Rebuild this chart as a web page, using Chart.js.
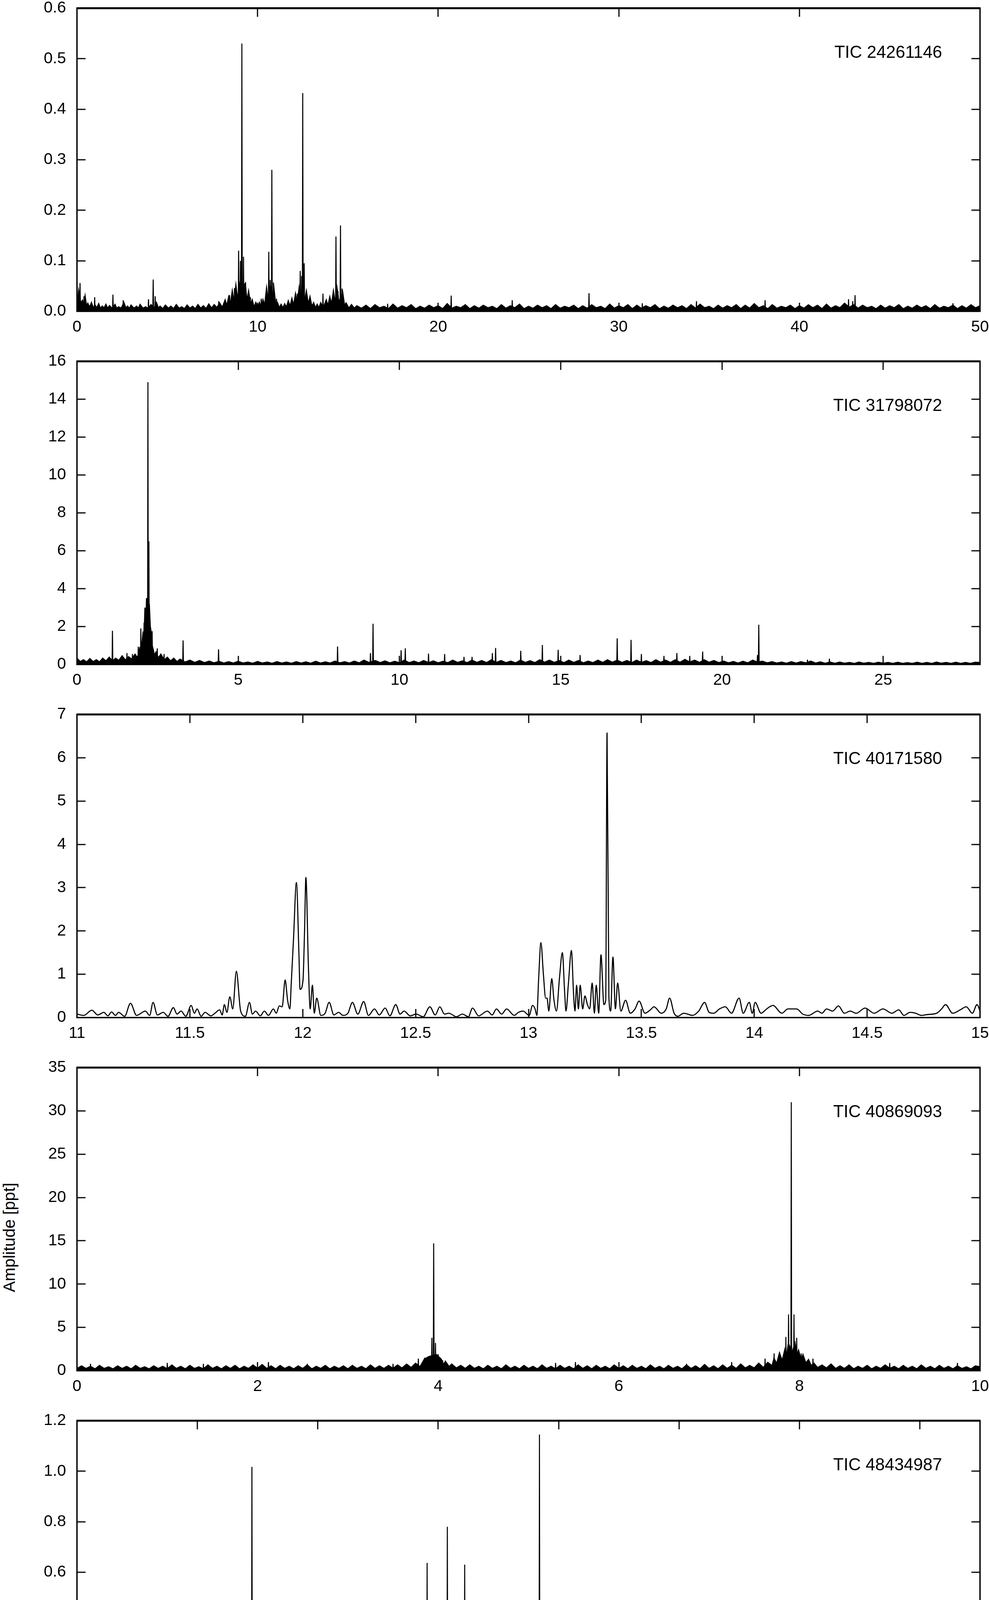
<!DOCTYPE html>
<html>
<head>
<meta charset="utf-8">
<script src="https://cdn.jsdelivr.net/npm/chart.js@4.4.1/dist/chart.umd.min.js"></script>
<style>
  body { margin: 0; background: #fff; width: 2531px; height: 6331px; position: relative; overflow: hidden; font-family: "Liberation Sans", Arial, sans-serif; }
  .panel { position: absolute; left: 0; width: 2531px; }
  #ylab { position: absolute; left: 24px; top: 3168px; transform: translate(-50%, -50%) rotate(-90deg); font-size: 42px; white-space: nowrap; color: #000; }
</style>
</head>
<body>
<div id="ylab">Amplitude [ppt]</div>
<script>
// ---- TIC 24261146 ----
const xTicks1 = [0, 10, 20, 30, 40, 50];
const yTicks1 = [0, 0.1, 0.2, 0.3, 0.4, 0.5, 0.6];
const noise1 = [[0,.03],[.05,.012],[.1,.035],[.2,.015],[.3,.02],[.38,.008],[.45,.025],[.52,.008],[.6,.014],[.7,.006],[.8,.015],[.9,.005],[1.0,.011],[1.1,.005],[1.2,.013],[1.3,.004],[1.4,.009],[1.5,.005],[1.6,.012],[1.7,.004],[1.8,.01],[1.95,.005],[2.1,.012],[2.2,.004],[2.3,.008],[2.45,.005],[2.6,.015],[2.7,.005],[2.8,.009],[2.9,.004],[3.0,.011],[3.15,.005],[3.3,.009],[3.4,.004],[3.5,.012],[3.65,.005],[3.8,.008],[3.95,.004],[4.1,.012],[4.3,.006],[4.4,.015],[4.5,.005],[4.6,.009],[4.75,.004],[4.9,.011],[5.05,.005],[5.2,.009],[5.35,.004],[5.5,.012],[5.65,.005],[5.8,.008],[5.95,.004],[6.1,.011],[6.25,.005],[6.4,.009],[6.55,.004],[6.7,.012],[6.85,.005],[7.0,.01],[7.15,.004],[7.3,.013],[7.45,.005],[7.6,.012],[7.75,.006],[7.9,.015],[8.05,.006],[8.2,.02],[8.3,.008],[8.4,.025],[8.5,.01],[8.6,.035],[8.7,.012],[8.8,.045],[8.9,.015],[9.0,.05],[9.2,.02],[9.3,.055],[9.4,.015],[9.5,.035],[9.6,.01],[9.7,.02],[9.8,.006],[9.9,.015],[10.0,.005],[10.1,.015],[10.2,.006],[10.3,.02],[10.4,.008],[10.5,.04],[10.6,.012],[10.7,.05],[10.8,.015],[10.9,.04],[11.0,.008],[11.1,.015],[11.2,.005],[11.3,.012],[11.4,.005],[11.5,.013],[11.6,.006],[11.7,.018],[11.8,.007],[11.9,.022],[12.0,.008],[12.1,.03],[12.2,.01],[12.3,.04],[12.4,.012],[12.5,.05],[12.6,.015],[12.7,.035],[12.8,.01],[12.9,.025],[13.0,.007],[13.1,.015],[13.2,.005],[13.3,.012],[13.4,.005],[13.5,.015],[13.65,.006],[13.8,.02],[13.9,.008],[14.0,.025],[14.1,.01],[14.2,.035],[14.3,.012],[14.4,.04],[14.5,.014],[14.7,.035],[14.8,.01],[14.9,.015],[15.05,.005],[15.2,.012],[15.35,.005],[15.5,.010],[15.75,.005],[16.0,.011],[16.25,.004],[16.5,.012],[16.75,.006],[17.0,.009],[17.25,.004],[17.5,.013],[17.75,.005],[18.0,.010],[18.25,.006],[18.5,.012],[18.75,.004],[19.0,.009],[19.25,.005],[19.5,.011],[19.75,.006],[20.0,.010],[20.25,.004],[20.5,.014],[20.75,.005],[21.0,.009],[21.25,.006],[21.5,.012],[21.75,.004],[22.0,.010],[22.25,.005],[22.5,.011],[22.75,.006],[23.0,.009],[23.25,.004],[23.5,.012],[23.75,.005],[24.0,.010],[24.25,.006],[24.5,.013],[24.75,.004],[25.0,.009],[25.25,.005],[25.5,.011],[25.75,.006],[26.0,.010],[26.25,.004],[26.5,.012],[26.75,.005],[27.0,.009],[27.25,.006],[27.5,.011],[27.75,.004],[28.0,.010],[28.25,.005],[28.5,.012],[28.75,.006],[29.0,.009],[29.25,.004],[29.5,.013],[29.75,.005],[30.0,.010],[30.25,.006],[30.5,.012],[30.75,.004],[31.0,.011],[31.25,.005],[31.5,.010],[31.75,.006],[32.0,.012],[32.25,.004],[32.5,.009],[32.75,.005],[33.0,.011],[33.25,.006],[33.5,.010],[33.75,.004],[34.0,.012],[34.25,.005],[34.5,.013],[34.75,.006],[35.0,.009],[35.25,.004],[35.5,.011],[35.75,.005],[36.0,.010],[36.25,.006],[36.5,.012],[36.75,.004],[37.0,.011],[37.25,.005],[37.5,.014],[37.75,.006],[38.0,.010],[38.25,.004],[38.5,.012],[38.75,.005],[39.0,.009],[39.25,.006],[39.5,.011],[39.75,.004],[40.0,.010],[40.25,.005],[40.5,.012],[40.75,.006],[41.0,.011],[41.25,.004],[41.5,.013],[41.75,.005],[42.0,.010],[42.25,.006],[42.5,.015],[42.75,.007],[43.0,.012],[43.25,.005],[43.5,.011],[43.75,.006],[44.0,.009],[44.25,.004],[44.5,.011],[44.75,.005],[45.0,.010],[45.25,.006],[45.5,.012],[45.75,.004],[46.0,.009],[46.25,.005],[46.5,.011],[46.75,.006],[47.0,.010],[47.25,.004],[47.5,.012],[47.75,.005],[48.0,.009],[48.25,.006],[48.5,.011],[48.75,.004],[49.0,.010],[49.25,.005],[49.5,.012],[49.75,.006],[50.0,.010]];
const peaks1 = [[0.17,0.056],[0.39,0.03],[0.98,0.028],[1.99,0.033],[2.56,0.022],[3.96,0.024],[4.22,0.063],[4.33,0.03],[7.85,0.02],[8.45,0.032],[8.72,0.046],[8.95,0.12],[9.05,0.1],[9.13,0.53],[9.22,0.108],[9.33,0.058],[9.6,0.028],[10.2,0.025],[10.62,0.118],[10.7,0.062],[10.79,0.28],[10.88,0.057],[11.05,0.025],[12.2,0.035],[12.36,0.08],[12.44,0.07],[12.5,0.432],[12.58,0.095],[12.7,0.04],[13.62,0.035],[14.2,0.03],[14.34,0.148],[14.45,0.04],[14.59,0.17],[14.68,0.045],[17.2,0.015],[20.72,0.031],[24.1,0.022],[28.35,0.036],[31.3,0.016],[34.3,0.02],[38.1,0.022],[42.72,0.024],[42.95,0.02],[43.08,0.032],[48.5,0.016]];

// ---- TIC 31798072 ----
const xTicks2 = [0, 5, 10, 15, 20, 25];
const yTicks2 = [0, 2, 4, 6, 8, 10, 12, 14, 16];
const noise2 = [[0,.3],[.1,.12],[.2,.22],[.3,.1],[.4,.28],[.5,.12],[.6,.22],[.7,.1],[.8,.3],[.9,.15],[1.0,.35],[1.1,.15],[1.2,.3],[1.3,.18],[1.4,.42],[1.5,.2],[1.6,.38],[1.7,.25],[1.8,.5],[1.88,.3],[1.95,.8],[2.0,.6],[2.05,1.5],[2.09,1.2],[2.12,3.0],[2.15,2.4],[2.17,3.5],[2.2,2.8],[2.23,3.2],[2.26,2.0],[2.28,1.8],[2.32,1.0],[2.35,.8],[2.4,.4],[2.45,.6],[2.52,.3],[2.6,.5],[2.7,.2],[2.8,.35],[2.9,.15],[3.0,.3],[3.1,.12],[3.2,.25],[3.35,.1],[3.5,.2],[3.65,.08],[3.8,.18],[3.95,.07],[4.1,.15],[4.25,.06],[4.4,.14],[4.55,.05],[4.7,.12],[4.85,.05],[5.0,.14],[5.15,.05],[5.3,.1],[5.45,.04],[5.6,.13],[5.75,.05],[5.9,.1],[6.05,.04],[6.2,.12],[6.35,.05],[6.5,.1],[6.65,.04],[6.8,.12],[6.95,.05],[7.1,.11],[7.25,.04],[7.4,.14],[7.55,.05],[7.7,.11],[7.85,.05],[8.0,.15],[8.15,.06],[8.3,.12],[8.45,.05],[8.6,.15],[8.75,.06],[8.9,.2],[9.05,.08],[9.25,.18],[9.4,.07],[9.55,.16],[9.7,.06],[9.85,.14],[10.0,.06],[10.15,.2],[10.3,.07],[10.45,.15],[10.6,.06],[10.75,.18],[10.9,.07],[11.05,.16],[11.2,.06],[11.35,.14],[11.5,.07],[11.65,.2],[11.8,.08],[11.95,.16],[12.1,.07],[12.25,.2],[12.4,.08],[12.55,.18],[12.7,.07],[12.85,.22],[13.0,.08],[13.15,.18],[13.3,.07],[13.45,.15],[13.6,.06],[13.75,.2],[13.9,.08],[14.05,.17],[14.2,.07],[14.35,.22],[14.5,.09],[14.65,.2],[14.8,.08],[14.95,.18],[15.1,.07],[15.25,.2],[15.4,.08],[15.55,.18],[15.7,.06],[15.85,.15],[16.0,.07],[16.15,.2],[16.3,.08],[16.45,.22],[16.6,.09],[16.75,.2],[16.9,.08],[17.05,.18],[17.2,.07],[17.35,.2],[17.5,.08],[17.65,.17],[17.8,.07],[17.95,.22],[18.1,.09],[18.25,.2],[18.4,.08],[18.55,.22],[18.7,.09],[18.85,.24],[19.0,.1],[19.15,.2],[19.3,.08],[19.45,.22],[19.6,.09],[19.75,.18],[19.9,.07],[20.05,.15],[20.2,.06],[20.35,.13],[20.5,.05],[20.65,.14],[20.8,.06],[20.95,.2],[21.1,.1],[21.25,.15],[21.4,.06],[21.55,.12],[21.7,.05],[21.85,.1],[22.0,.04],[22.15,.12],[22.3,.05],[22.45,.12],[22.6,.06],[22.75,.15],[22.9,.05],[23.05,.11],[23.2,.04],[23.35,.1],[23.5,.04],[23.65,.1],[23.8,.04],[23.95,.08],[24.1,.03],[24.25,.1],[24.4,.04],[24.55,.08],[24.7,.03],[24.85,.09],[25.0,.04],[25.15,.08],[25.3,.03],[25.45,.09],[25.6,.03],[25.75,.07],[25.9,.03],[26.05,.09],[26.2,.03],[26.35,.08],[26.5,.03],[26.65,.1],[26.8,.04],[26.95,.08],[27.1,.03],[27.25,.09],[27.4,.03],[27.55,.08],[27.7,.03],[27.85,.09],[28.0,.08]];
const peaks2 = [[1.1,1.78],[1.55,0.6],[1.72,0.55],[1.9,0.94],[1.98,1.9],[2.08,2.2],[2.2,14.9],[2.23,6.5],[2.33,1.75],[2.49,0.85],[2.7,0.55],[3.29,1.27],[4.39,0.8],[8.08,0.95],[9.1,0.6],[9.18,2.15],[10.05,0.75],[10.18,0.85],[10.9,0.57],[11.4,0.55],[12.0,0.4],[12.25,0.4],[12.88,0.6],[12.98,0.87],[13.76,0.72],[14.43,1.03],[14.92,0.77],[15.6,0.5],[16.75,1.38],[17.18,1.3],[17.5,0.55],[18.2,0.45],[18.6,0.6],[19.0,0.45],[19.4,0.68],[21.1,0.5],[21.14,2.1],[22.65,0.25],[23.33,0.3]];

// ---- TIC 40171580 ----
const xTicks3 = [11, 11.5, 12, 12.5, 13, 13.5, 14, 14.5, 15];
const yTicks3 = [0, 1, 2, 3, 4, 5, 6, 7];
const line3 = [[11.0,0.08],[11.03,0.05],[11.066,0.17],[11.092,0.06],[11.119,0.12],[11.137,0.04],[11.153,0.13],[11.171,0.05],[11.184,0.12],[11.211,0.03],[11.237,0.33],[11.264,0.05],[11.303,0.15],[11.322,0.05],[11.337,0.35],[11.356,0.06],[11.382,0.12],[11.403,0.03],[11.427,0.23],[11.443,0.08],[11.461,0.15],[11.482,0.03],[11.506,0.28],[11.52,0.1],[11.532,0.2],[11.55,0.03],[11.567,0.12],[11.593,0.04],[11.611,0.1],[11.632,0.18],[11.643,0.06],[11.653,0.3],[11.664,0.12],[11.677,0.48],[11.69,0.2],[11.706,1.07],[11.725,0.15],[11.746,0.03],[11.764,0.35],[11.777,0.08],[11.791,0.15],[11.812,0.04],[11.83,0.15],[11.848,0.05],[11.87,0.2],[11.883,0.1],[11.896,0.27],[11.909,0.25],[11.922,0.87],[11.933,0.4],[11.943,0.2],[11.949,0.78],[11.959,1.8],[11.972,3.12],[11.983,1.5],[11.988,0.65],[12.001,0.85],[12.008,2.0],[12.014,3.24],[12.025,1.2],[12.033,0.2],[12.043,0.75],[12.051,0.1],[12.062,0.45],[12.08,0.05],[12.099,0.1],[12.117,0.35],[12.138,0.06],[12.159,0.12],[12.178,0.05],[12.2,0.1],[12.22,0.35],[12.244,0.08],[12.27,0.37],[12.291,0.05],[12.318,0.2],[12.339,0.06],[12.365,0.22],[12.386,0.04],[12.412,0.3],[12.431,0.08],[12.449,0.15],[12.476,0.04],[12.502,0.08],[12.534,0.02],[12.563,0.25],[12.587,0.06],[12.607,0.25],[12.628,0.08],[12.647,0.1],[12.681,0.02],[12.707,0.08],[12.734,0.02],[12.752,0.22],[12.779,0.04],[12.818,0.15],[12.839,0.06],[12.858,0.2],[12.881,0.08],[12.903,0.2],[12.937,0.05],[12.955,0.12],[12.976,0.15],[13.003,0.05],[13.018,0.28],[13.029,0.2],[13.037,0.05],[13.045,0.9],[13.055,1.73],[13.066,1.0],[13.076,0.45],[13.082,0.45],[13.09,0.15],[13.103,0.9],[13.113,0.4],[13.124,0.15],[13.137,0.9],[13.15,1.5],[13.16,0.6],[13.166,0.15],[13.177,0.8],[13.19,1.55],[13.2,0.5],[13.206,0.15],[13.213,0.75],[13.221,0.2],[13.229,0.75],[13.24,0.2],[13.25,0.5],[13.261,0.3],[13.271,0.2],[13.282,0.8],[13.292,0.1],[13.3,0.75],[13.311,0.1],[13.321,1.45],[13.334,0.3],[13.342,0.4],[13.348,6.57],[13.356,0.5],[13.364,0.15],[13.374,1.4],[13.385,0.2],[13.395,0.8],[13.409,0.15],[13.43,0.4],[13.451,0.1],[13.472,0.2],[13.49,0.38],[13.516,0.1],[13.54,0.18],[13.556,0.25],[13.588,0.1],[13.61,0.2],[13.625,0.45],[13.645,0.1],[13.661,0.03],[13.688,0.1],[13.727,0.05],[13.754,0.15],[13.78,0.35],[13.8,0.12],[13.82,0.1],[13.846,0.2],[13.872,0.25],[13.899,0.1],[13.933,0.45],[13.951,0.1],[13.978,0.35],[13.991,0.1],[14.004,0.35],[14.03,0.1],[14.055,0.2],[14.083,0.28],[14.122,0.1],[14.149,0.2],[14.188,0.2],[14.215,0.08],[14.241,0.05],[14.281,0.15],[14.3,0.1],[14.32,0.2],[14.347,0.15],[14.373,0.27],[14.399,0.1],[14.425,0.15],[14.452,0.1],[14.491,0.22],[14.531,0.1],[14.57,0.2],[14.61,0.1],[14.64,0.18],[14.663,0.05],[14.69,0.12],[14.715,0.1],[14.74,0.05],[14.768,0.07],[14.808,0.1],[14.83,0.2],[14.847,0.3],[14.879,0.1],[14.913,0.18],[14.939,0.25],[14.966,0.1],[14.987,0.3],[15.0,0.15]];

// ---- TIC 40869093 ----
const xTicks4 = [0, 2, 4, 6, 8, 10];
const yTicks4 = [0, 5, 10, 15, 20, 25, 30, 35];
const noise4 = [[0,.2],[.05,.5],[.1,.2],[.15,.45],[.2,.15],[.25,.55],[.3,.2],[.35,.4],[.4,.15],[.45,.5],[.5,.2],[.55,.45],[.6,.15],[.65,.55],[.7,.2],[.75,.4],[.8,.15],[.85,.5],[.9,.2],[.95,.45],[1.0,.15],[1.05,.6],[1.1,.2],[1.15,.45],[1.2,.15],[1.25,.55],[1.3,.2],[1.35,.4],[1.4,.15],[1.45,.6],[1.5,.2],[1.55,.45],[1.6,.15],[1.65,.5],[1.7,.2],[1.75,.55],[1.8,.15],[1.85,.45],[1.9,.2],[1.95,.6],[2.0,.2],[2.05,.65],[2.1,.2],[2.15,.5],[2.2,.15],[2.25,.55],[2.3,.2],[2.35,.45],[2.4,.15],[2.45,.5],[2.5,.2],[2.55,.6],[2.6,.15],[2.65,.45],[2.7,.2],[2.75,.55],[2.8,.15],[2.85,.45],[2.9,.2],[2.95,.5],[3.0,.15],[3.05,.55],[3.1,.2],[3.15,.45],[3.2,.15],[3.25,.6],[3.3,.2],[3.35,.5],[3.4,.2],[3.45,.55],[3.5,.2],[3.55,.6],[3.6,.25],[3.65,.7],[3.7,.3],[3.75,.8],[3.8,.4],[3.85,1.3],[3.9,1.6],[3.98,1.8],[4.03,1.3],[4.06,.6],[4.08,1.0],[4.12,.4],[4.15,.7],[4.2,.25],[4.25,.55],[4.3,.2],[4.35,.6],[4.4,.2],[4.45,.45],[4.5,.15],[4.55,.55],[4.6,.2],[4.65,.45],[4.7,.15],[4.75,.6],[4.8,.2],[4.85,.45],[4.9,.15],[4.95,.55],[5.0,.2],[5.05,.45],[5.1,.15],[5.15,.6],[5.2,.2],[5.25,.45],[5.3,.15],[5.35,.55],[5.4,.2],[5.45,.45],[5.5,.15],[5.55,.6],[5.6,.2],[5.65,.5],[5.7,.15],[5.75,.55],[5.8,.2],[5.85,.45],[5.9,.15],[5.95,.6],[6.0,.2],[6.05,.5],[6.1,.15],[6.15,.55],[6.2,.2],[6.25,.45],[6.3,.15],[6.35,.6],[6.4,.2],[6.45,.45],[6.5,.15],[6.55,.55],[6.6,.2],[6.65,.45],[6.7,.15],[6.75,.6],[6.8,.2],[6.85,.5],[6.9,.15],[6.95,.65],[7.0,.2],[7.05,.5],[7.1,.15],[7.15,.6],[7.2,.2],[7.25,.55],[7.3,.2],[7.35,.7],[7.4,.25],[7.45,.55],[7.5,.25],[7.55,.8],[7.6,.3],[7.65,.9],[7.7,.5],[7.72,1.3],[7.75,.7],[7.78,1.9],[7.81,1.0],[7.84,2.3],[7.86,1.5],[7.88,3.0],[7.92,2.0],[7.95,3.0],[7.97,1.6],[7.99,2.2],[8.02,1.0],[8.04,1.7],[8.07,.8],[8.1,1.2],[8.13,.5],[8.16,.8],[8.2,.3],[8.25,.6],[8.3,.25],[8.35,.7],[8.4,.2],[8.45,.5],[8.5,.2],[8.55,.6],[8.6,.15],[8.65,.45],[8.7,.2],[8.75,.55],[8.8,.15],[8.85,.45],[8.9,.2],[8.95,.6],[9.0,.2],[9.05,.45],[9.1,.15],[9.15,.55],[9.2,.2],[9.25,.45],[9.3,.15],[9.35,.6],[9.4,.2],[9.45,.45],[9.5,.15],[9.55,.55],[9.6,.2],[9.65,.45],[9.7,.15],[9.75,.5],[9.8,.2],[9.85,.4],[9.9,.15],[9.95,.5],[10.0,.4]];
const peaks4 = [[0.15,0.8],[1.0,0.9],[1.4,0.8],[2.12,1.0],[2.55,0.8],[3.5,0.8],[3.78,1.4],[3.85,1.5],[3.93,3.8],[3.95,14.7],[3.97,3.2],[4.0,1.9],[4.05,1.2],[5.3,0.9],[5.52,1.0],[6.75,0.8],[7.25,1.0],[7.62,1.4],[7.72,2.0],[7.85,3.9],[7.88,6.5],[7.91,31.0],[7.94,6.5],[7.97,3.8],[8.02,2.0],[8.15,1.4],[9.0,0.9],[9.75,0.9]];

// ---- TIC 48434987 ----
const xTicks5 = [0, 10, 20, 30, 40, 50, 60, 70];
const yTicks5 = [0, 0.2, 0.4, 0.6, 0.8, 1.0, 1.2];
const noise5 = [[0,.08],[.2,.04],[.4,.07],[.6,.03],[.8,.06],[1.0,.025],[1.2,.05],[1.4,.02],[1.6,.04],[1.8,.015],[2.0,.035],[2.2,.015],[2.4,.04],[2.6,.012],[2.8,.03],[3.0,.012],[3.2,.035],[3.4,.01],[3.6,.03],[3.8,.012],[4.0,.035],[4.2,.01],[4.4,.025],[4.6,.01],[4.8,.03],[5.0,.012],[5.2,.035],[5.4,.01],[5.6,.025],[5.8,.012],[6.0,.03],[6.2,.01],[6.4,.028],[6.6,.012],[6.8,.035],[7.0,.01],[7.2,.025],[7.4,.012],[7.6,.03],[7.8,.01],[8.0,.03],[8.2,.012],[8.4,.025],[8.6,.01],[8.8,.035],[9.0,.012],[9.2,.03],[9.4,.01],[9.6,.03],[9.8,.012],[10.0,.035],[10.3,.015],[10.6,.04],[10.9,.015],[11.2,.035],[11.5,.015],[11.8,.045],[12.1,.018],[12.4,.05],[12.7,.02],[13.0,.045],[13.3,.02],[13.6,.06],[13.9,.03],[14.1,.07],[14.3,.08],[14.5,.05],[14.8,.07],[15.0,.03],[15.3,.05],[15.6,.015],[15.9,.045],[16.2,.015],[16.5,.035],[16.8,.015],[17.1,.04],[17.4,.015],[17.7,.035],[18.0,.02],[18.3,.05],[18.6,.06],[18.9,.025],[19.2,.05],[19.5,.02],[19.8,.04],[20.1,.015],[20.4,.035],[20.7,.015],[21.0,.04],[21.3,.015],[21.6,.045],[21.9,.018],[22.2,.04],[22.5,.015],[22.8,.035],[23.1,.015],[23.4,.05],[23.7,.02],[24.0,.04],[24.3,.02],[24.6,.05],[24.9,.018],[25.2,.04],[25.5,.015],[25.8,.045],[26.1,.018],[26.4,.05],[26.7,.02],[27.0,.045],[27.3,.018],[27.6,.04],[27.9,.02],[28.2,.05],[28.5,.025],[28.8,.06],[29.1,.07],[29.4,.04],[29.7,.02],[29.9,.005],[30.1,.03],[30.4,.06],[30.7,.04],[31.0,.06],[31.3,.03],[31.6,.05],[31.9,.025],[32.2,.06],[32.5,.03],[32.8,.05],[33.1,.02],[33.4,.04],[33.7,.015],[34.0,.035],[34.3,.015],[34.6,.04],[34.9,.015],[35.2,.035],[35.5,.015],[35.8,.045],[36.1,.02],[36.4,.05],[36.7,.02],[37.0,.045],[37.3,.025],[37.6,.06],[37.9,.04],[38.2,.08],[38.5,.09],[38.8,.06],[39.1,.05],[39.4,.02],[39.7,.04],[40.0,.015],[40.3,.035],[40.6,.015],[40.9,.03],[41.2,.012],[41.5,.035],[41.8,.012],[42.1,.03],[42.4,.015],[42.7,.04],[43.0,.012],[43.3,.035],[43.6,.015],[43.9,.03],[44.2,.012],[44.5,.04],[44.8,.015],[45.1,.03],[45.5,.01],[46.0,.028],[46.5,.01],[47.0,.03],[47.5,.01],[48.0,.028],[48.5,.01],[49.0,.03],[49.5,.01],[50.0,.028],[50.5,.01],[51.0,.03],[51.5,.01],[52.0,.027],[52.5,.01],[53.0,.03],[53.5,.008],[54.0,.025],[54.5,.008],[55.0,.025],[55.5,.008],[56.0,.024],[56.5,.008],[57.0,.025],[57.5,.008],[58.0,.022],[58.5,.007],[59.0,.023],[59.5,.007],[60.0,.022],[60.5,.007],[61.0,.02],[61.5,.006],[62.0,.022],[62.5,.006],[63.0,.02],[63.5,.006],[64.0,.021],[64.5,.006],[65.0,.019],[65.5,.006],[66.0,.02],[66.5,.006],[67.0,.019],[67.5,.006],[68.0,.02],[68.5,.006],[69.0,.019],[69.5,.006],[70.0,.02],[70.5,.006],[71.0,.018],[71.5,.006],[72.0,.02],[72.5,.006],[73.0,.018],[73.5,.006],[74.0,.019],[74.5,.006],[75.0,.017]];
const peaks5 = [[0.17,0.135],[0.37,0.1],[0.52,0.128],[0.8,0.1],[2.5,0.07],[4.07,0.085],[8.8,0.05],[10.63,0.065],[10.93,0.145],[11.5,0.1],[12.6,0.2],[13.1,0.28],[13.54,0.09],[14.23,0.1],[14.53,1.017],[14.62,0.2],[15.32,0.21],[16.25,0.165],[17.39,0.07],[17.73,0.22],[18.08,0.09],[18.72,0.383],[18.87,0.11],[19.32,0.115],[19.76,0.19],[22.12,0.07],[23.7,0.145],[24.39,0.237],[25.18,0.1],[26.6,0.11],[27.0,0.1],[27.4,0.09],[28.4,0.1],[29.08,0.637],[30.76,0.78],[31.5,0.302],[32.2,0.63],[33.03,0.28],[33.3,0.07],[35.5,0.07],[36.2,0.115],[37.57,0.17],[38.0,0.1],[38.41,1.145],[38.5,0.32],[38.6,0.2],[39.1,0.16],[44.4,0.07],[44.67,0.128],[51.3,0.06],[54.3,0.08],[62.0,0.05],[66.0,0.06],[69.7,0.065]];

// ---- TIC 51026945 ----
const xTicks6 = [0, 5, 10, 15, 20, 25, 30, 35, 40];
const yTicks6 = [0, 0.05, 0.1, 0.15, 0.2, 0.25, 0.3, 0.35];
const noise6 = [[0,.025],[.1,.01],[.2,.02],[.3,.008],[.4,.022],[.5,.008],[.6,.02],[.7,.007],[.8,.018],[.9,.007],[1.0,.022],[1.1,.006],[1.2,.016],[1.4,.005],[1.6,.014],[1.8,.004],[2.0,.012],[2.2,.004],[2.4,.01],[2.6,.003],[2.8,.012],[3.0,.004],[3.2,.009],[3.4,.003],[3.6,.011],[3.8,.004],[4.0,.009],[4.2,.003],[4.4,.012],[4.6,.004],[4.8,.009],[5.0,.003],[5.2,.011],[5.4,.004],[5.6,.009],[5.8,.003],[6.0,.01],[6.2,.004],[6.4,.012],[6.6,.003],[6.8,.009],[7.0,.004],[7.2,.011],[7.4,.003],[7.6,.009],[7.8,.004],[8.0,.011],[8.2,.003],[8.4,.009],[8.6,.004],[8.8,.012],[9.0,.003],[9.2,.009],[9.4,.004],[9.6,.011],[9.8,.003],[10.0,.009],[10.2,.004],[10.4,.012],[10.6,.003],[10.8,.009],[11.0,.004],[11.2,.011],[11.4,.003],[11.6,.009],[11.8,.004],[12.0,.01],[12.2,.003],[12.4,.008],[12.6,.004],[12.8,.011],[13.0,.003],[13.2,.009],[13.4,.004],[13.6,.01],[13.8,.003],[14.0,.008],[14.2,.004],[14.4,.011],[14.6,.003],[14.8,.009],[15.0,.004],[15.2,.011],[15.4,.003],[15.6,.01],[15.8,.004],[16.0,.012],[16.2,.004],[16.4,.01],[16.6,.003],[16.8,.011],[17.0,.004],[17.2,.011],[17.4,.004],[17.6,.013],[17.8,.005],[18.0,.012],[18.2,.004],[18.4,.011],[18.6,.004],[18.8,.012],[19.0,.005],[19.2,.015],[19.35,.008],[19.5,.02],[19.6,.012],[19.7,.04],[19.8,.02],[19.95,.035],[20.05,.01],[20.2,.015],[20.35,.004],[20.5,.011],[20.65,.004],[20.8,.012],[21.0,.004],[21.2,.011],[21.4,.004],[21.6,.012],[21.75,.005],[21.9,.015],[22.05,.008],[22.2,.025],[22.3,.012],[22.4,.05],[22.5,.02],[22.6,.04],[22.7,.01],[22.8,.02],[22.9,.005],[23.0,.011],[23.2,.004],[23.4,.012],[23.6,.003],[23.8,.01],[24.0,.004],[24.2,.011],[24.4,.003],[24.6,.009],[24.8,.004],[25.0,.011],[25.2,.003],[25.4,.01],[25.6,.004],[25.8,.012],[26.0,.003],[26.2,.009],[26.4,.004],[26.6,.011],[26.8,.003],[27.0,.01],[27.2,.004],[27.4,.012],[27.6,.003],[27.8,.009],[28.0,.004],[28.2,.011],[28.4,.003],[28.6,.01],[28.8,.004],[29.0,.012],[29.2,.003],[29.4,.01],[29.6,.004],[29.8,.012],[30.0,.003],[30.2,.009],[30.4,.004],[30.6,.011],[30.8,.004],[31.0,.01],[31.2,.003],[31.4,.012],[31.6,.004],[31.8,.009],[32.0,.003],[32.2,.011],[32.4,.004],[32.6,.009],[32.8,.003],[33.0,.011],[33.2,.004],[33.4,.01],[33.6,.003],[33.8,.012],[34.0,.004],[34.2,.009],[34.4,.003],[34.6,.011],[34.8,.004],[35.0,.01],[35.2,.003],[35.4,.012],[35.6,.004],[35.8,.01],[36.0,.003],[36.2,.011],[36.4,.004],[36.6,.009],[36.8,.003],[37.0,.011],[37.2,.004],[37.4,.01],[37.6,.003],[37.8,.012],[38.0,.004],[38.2,.009],[38.4,.003],[38.6,.011],[38.8,.004],[39.0,.01],[39.2,.003],[39.4,.011],[39.6,.004],[39.8,.01],[40.0,.012]];
const peaks6 = [[0.18,0.029],[0.5,0.02],[0.95,0.039],[1.1,0.037],[1.29,0.097],[2.6,0.062],[6.29,0.05],[12.8,0.015],[15.8,0.018],[17.87,0.072],[17.95,0.025],[19.1,0.027],[19.76,0.045],[19.84,0.258],[19.92,0.045],[21.0,0.02],[21.16,0.06],[22.4,0.065],[22.47,0.335],[22.54,0.07],[26.4,0.018],[29.4,0.018],[30.87,0.056],[36.8,0.016],[39.5,0.048]];

// ---- TIC 62774721 ----
const xTicks7 = [0, 10, 20, 30, 40, 50];
const yTicks7 = [0, 0.2, 0.4, 0.6, 0.8, 1.0, 1.2];
const noise7 = [[0,.08],[.15,.04],[.3,.07],[.45,.03],[.6,.06],[.75,.02],[.9,.05],[1.05,.02],[1.2,.045],[1.35,.015],[1.5,.05],[1.65,.015],[1.8,.04],[1.95,.015],[2.1,.045],[2.25,.015],[2.4,.05],[2.55,.015],[2.7,.035],[2.85,.012],[3.0,.045],[3.15,.015],[3.3,.04],[3.45,.012],[3.6,.035],[3.75,.015],[3.9,.05],[4.05,.02],[4.2,.04],[4.35,.015],[4.5,.05],[4.65,.015],[4.8,.045],[4.95,.012],[5.1,.035],[5.25,.012],[5.4,.04],[5.55,.01],[5.7,.035],[5.85,.01],[6.0,.03],[6.15,.01],[6.3,.04],[6.45,.01],[6.6,.03],[6.75,.01],[6.9,.035],[7.05,.01],[7.2,.03],[7.35,.008],[7.5,.03],[7.65,.008],[7.8,.025],[7.95,.01],[8.1,.04],[8.25,.03],[8.4,.06],[8.55,.03],[8.7,.07],[8.85,.03],[9.0,.06],[9.15,.02],[9.3,.05],[9.45,.015],[9.6,.035],[9.75,.015],[9.9,.04],[10.05,.02],[10.2,.045],[10.35,.02],[10.5,.05],[10.65,.03],[10.8,.08],[10.95,.06],[11.05,.14],[11.15,.1],[11.3,.17],[11.4,.12],[11.5,.16],[11.65,.14],[11.75,.1],[11.85,.05],[12.0,.06],[12.15,.02],[12.3,.04],[12.45,.02],[12.6,.06],[12.75,.03],[12.9,.08],[13.05,.03],[13.2,.07],[13.35,.03],[13.5,.06],[13.65,.02],[13.8,.04],[13.95,.015],[14.1,.05],[14.25,.015],[14.4,.045],[14.55,.015],[14.7,.04],[14.85,.015],[15.0,.05],[15.15,.02],[15.3,.06],[15.45,.02],[15.6,.035],[15.75,.012],[15.9,.04],[16.05,.012],[16.2,.035],[16.35,.012],[16.5,.03],[16.65,.012],[16.8,.04],[16.95,.015],[17.1,.045],[17.25,.015],[17.4,.04],[17.55,.015],[17.7,.055],[17.85,.02],[18.0,.06],[18.15,.02],[18.3,.05],[18.45,.015],[18.6,.04],[18.75,.015],[18.9,.06],[19.05,.02],[19.2,.065],[19.35,.025],[19.5,.07],[19.65,.03],[19.8,.08],[19.95,.03],[20.1,.06],[20.25,.02],[20.4,.045],[20.55,.015],[20.7,.04],[20.85,.015],[21.0,.05],[21.15,.015],[21.3,.04],[21.45,.015],[21.6,.05],[21.75,.015],[21.9,.04],[22.05,.012],[22.2,.035],[22.35,.012],[22.5,.045],[22.65,.012],[22.8,.035],[22.95,.01],[23.1,.03],[23.25,.01],[23.4,.04],[23.55,.01],[23.7,.03],[23.85,.01],[24.0,.04],[24.15,.012],[24.3,.035],[24.45,.01],[24.6,.03],[24.75,.008],[24.9,.02],[25.05,.006],[25.2,.025],[25.4,.008],[25.6,.03],[25.8,.01],[26.0,.035],[26.2,.01],[26.4,.03],[26.6,.01],[26.8,.035],[27.0,.012],[27.2,.04],[27.4,.012],[27.6,.035],[27.8,.01],[28.0,.03],[28.2,.01],[28.4,.035],[28.6,.01],[28.8,.03],[29.0,.01],[29.2,.035],[29.4,.008],[29.6,.025],[29.8,.01],[30.0,.03],[30.2,.008],[30.4,.025],[30.6,.007],[30.8,.02],[31.0,.007],[31.2,.025],[31.4,.007],[31.6,.02],[31.8,.007],[32.0,.025],[32.2,.007],[32.4,.02],[32.6,.007],[32.8,.025],[33.0,.006],[33.2,.02],[33.4,.006],[33.6,.025],[33.8,.006],[34.0,.02],[34.25,.006],[34.5,.022],[34.75,.006],[35.0,.018],[35.25,.005],[35.5,.022],[35.75,.006],[36.0,.02],[36.25,.006],[36.5,.025],[36.75,.006],[37.0,.02],[37.25,.006],[37.5,.025],[37.75,.006],[38.0,.02],[38.25,.005],[38.5,.022],[38.75,.005],[39.0,.018],[39.25,.005],[39.5,.02],[39.75,.006],[40.0,.02],[40.25,.006],[40.5,.025],[40.75,.006],[41.0,.02],[41.25,.005],[41.5,.022],[41.75,.006],[42.0,.025],[42.25,.006],[42.5,.02],[42.75,.005],[43.0,.022],[43.25,.006],[43.5,.025],[43.75,.005],[44.0,.018],[44.25,.005],[44.5,.02],[44.75,.005],[45.0,.022],[45.25,.005],[45.5,.018],[45.75,.005],[46.0,.02],[46.25,.005],[46.5,.017],[46.75,.005],[47.0,.02],[47.25,.005],[47.5,.018],[47.75,.005],[48.0,.02],[48.25,.005],[48.5,.017],[48.75,.005],[49.0,.02],[49.25,.005],[49.5,.016],[49.75,.005],[50.0,.02]];
const peaks7 = [[0.13,0.08],[1.88,0.095],[2.4,0.07],[3.0,0.075],[3.98,0.075],[4.64,0.07],[6.58,0.07],[8.42,0.335],[8.6,0.08],[8.91,0.248],[9.08,0.085],[10.9,0.09],[11.22,0.7],[11.3,0.18],[11.38,0.2],[11.47,0.3],[11.55,1.083],[11.62,0.2],[11.7,0.19],[12.04,0.1],[12.24,0.326],[12.86,0.1],[13.09,0.437],[13.55,0.322],[14.0,0.07],[14.7,0.09],[15.33,0.185],[15.92,0.09],[16.84,0.09],[18.06,0.095],[18.29,0.27],[19.18,0.12],[19.6,0.2],[19.84,0.393],[20.1,0.09],[21.0,0.12],[21.7,0.122],[22.24,0.09],[22.73,0.1],[23.95,0.075],[24.2,0.122],[24.57,0.07],[26.25,0.05],[27.47,0.115],[29.1,0.075],[29.8,0.09],[32.04,0.102],[33.5,0.07],[37.4,0.04],[40.4,0.045],[42.17,0.068],[43.6,0.05],[45.07,0.055]];

// layout of the stacked panels (pixels)
const TOP0 = 21, PITCH = 904, PLOT_H = 776, PAD_TOP = 30;
const PLOT_LEFT = 197, PAD_RIGHT = 23, TICK_LEN = 22;
const FONT = "'Liberation Sans', Arial, sans-serif";

Chart.defaults.font.family = FONT;
Chart.defaults.color = '#000';

function toPoints(pairs) {
  return pairs.map(p => ({ x: p[0], y: p[1] }));
}

// each peak becomes a narrow spike rising from the baseline
function toSpikes(peaks, xmin, xmax) {
  const hw = (xmax - xmin) / 2300;
  const pts = [];
  peaks.forEach(p => {
    pts.push({ x: p[0] - hw, y: 0 }, { x: p[0], y: p[1] }, { x: p[0] + hw, y: 0 });
  });
  return pts.sort((a, b) => a.x - b.x);
}

const framePlugin = {
  id: 'frame',
  afterDatasetsDraw(chart, args, opts) {
    const { ctx, chartArea: a, scales: { x, y } } = chart;
    ctx.save();
    ctx.strokeStyle = '#000';
    ctx.lineWidth = 3;
    ctx.beginPath();
    x.ticks.forEach(t => {
      if (t.value <= x.min || t.value >= x.max) return;
      const px = Math.round(x.getPixelForValue(t.value));
      ctx.moveTo(px, a.bottom); ctx.lineTo(px, a.bottom - TICK_LEN);
      ctx.moveTo(px, a.top); ctx.lineTo(px, a.top + TICK_LEN);
    });
    y.ticks.forEach(t => {
      if (t.value <= y.min || t.value >= y.max) return;
      const py = Math.round(y.getPixelForValue(t.value));
      ctx.moveTo(a.left, py); ctx.lineTo(a.left + TICK_LEN, py);
      ctx.moveTo(a.right, py); ctx.lineTo(a.right - TICK_LEN, py);
    });
    ctx.stroke();
    ctx.lineWidth = 3.5;
    ctx.strokeRect(a.left, a.top, a.right - a.left, a.bottom - a.top);
    ctx.lineWidth = 5;
    ctx.beginPath();
    ctx.moveTo(a.left - 1, a.top); ctx.lineTo(a.right + 1, a.top);
    ctx.stroke();
    ctx.fillStyle = '#000';
    ctx.font = '44px ' + FONT;
    ctx.textAlign = 'right';
    ctx.textBaseline = 'middle';
    ctx.fillText(opts.tag, a.right - 97, a.top + 115);
    ctx.restore();
  }
};

const panels = [
  { tag: 'TIC 24261146', xt: xTicks1, yt: yTicks1, dec: 1, noise: noise1, peaks: peaks1 },
  { tag: 'TIC 31798072', xt: xTicks2, yt: yTicks2, dec: 0, xmax: 28, noise: noise2, peaks: peaks2 },
  { tag: 'TIC 40171580', xt: xTicks3, yt: yTicks3, dec: 0, line: line3 },
  { tag: 'TIC 40869093', xt: xTicks4, yt: yTicks4, dec: 0, noise: noise4, peaks: peaks4 },
  { tag: 'TIC 48434987', xt: xTicks5, yt: yTicks5, dec: 1, xmax: 75, noise: noise5, peaks: peaks5 },
  { tag: 'TIC 51026945', xt: xTicks6, yt: yTicks6, dec: 2, noise: noise6, peaks: peaks6 },
  { tag: 'TIC 62774721', xt: xTicks7, yt: yTicks7, dec: 1, noise: noise7, peaks: peaks7 }
];

panels.forEach((p, i) => {
  const last = i === panels.length - 1;
  const bottomH = last ? 110 : 80;
  const div = document.createElement('div');
  div.className = 'panel';
  div.style.top = (TOP0 + i * PITCH - PAD_TOP) + 'px';
  const canvas = document.createElement('canvas');
  canvas.width = 2531;
  canvas.height = PAD_TOP + PLOT_H + bottomH;
  div.appendChild(canvas);
  document.body.appendChild(div);

  const xmin = p.xt[0];
  const xmax = p.xmax !== undefined ? p.xmax : p.xt[p.xt.length - 1];
  const ymax = p.yt[p.yt.length - 1];

  let datasets;
  if (p.line) {
    datasets = [{
      data: toPoints(p.line),
      borderColor: '#000',
      borderWidth: 2.8,
      pointRadius: 0,
      fill: false,
      cubicInterpolationMode: 'monotone'
    }];
  } else {
    datasets = [{
      // dense noise floor: filled band with a heavy outline
      data: toPoints(p.noise),
      borderColor: '#000',
      backgroundColor: '#000',
      borderWidth: 5,
      pointRadius: 0,
      fill: 'origin',
      tension: 0
    }, {
      data: toSpikes(p.peaks, xmin, xmax),
      borderColor: '#000',
      borderWidth: 2.6,
      pointRadius: 0,
      fill: false,
      tension: 0
    }];
  }

  new Chart(canvas, {
    type: 'line',
    data: { datasets },
    options: {
      responsive: false,
      animation: false,
      devicePixelRatio: 1,
      normalized: true,
      layout: { padding: { top: PAD_TOP, right: PAD_RIGHT, left: 0, bottom: 0 } },
      plugins: {
        legend: { display: false },
        tooltip: { enabled: false },
        frame: { tag: p.tag }
      },
      scales: {
        x: {
          type: 'linear',
          min: xmin,
          max: xmax,
          grid: { display: false, drawTicks: false },
          border: { display: false },
          afterBuildTicks: s => { s.ticks = p.xt.map(v => ({ value: v })); },
          afterFit: s => { s.height = bottomH; s.paddingLeft = 0; s.paddingRight = 0; },
          ticks: {
            padding: 16,
            maxRotation: 0,
            autoSkip: false,
            font: { size: 41 },
            color: '#000',
            callback: v => String(v)
          },
          title: {
            display: last,
            text: 'Frequency [c/d]',
            font: { size: 42 },
            color: '#000',
            padding: { top: 0, bottom: 4 }
          }
        },
        y: {
          min: 0,
          max: ymax,
          grid: { display: false, drawTicks: false },
          border: { display: false },
          afterBuildTicks: s => { s.ticks = p.yt.map(v => ({ value: v })); },
          afterFit: s => { s.width = PLOT_LEFT; s.paddingTop = 0; s.paddingBottom = 0; },
          ticks: {
            padding: 28,
            font: { size: 41 },
            color: '#000',
            callback: v => Number(v).toFixed(p.dec)
          }
        }
      }
    },
    plugins: [framePlugin]
  });
});
</script>
</body>
</html>
